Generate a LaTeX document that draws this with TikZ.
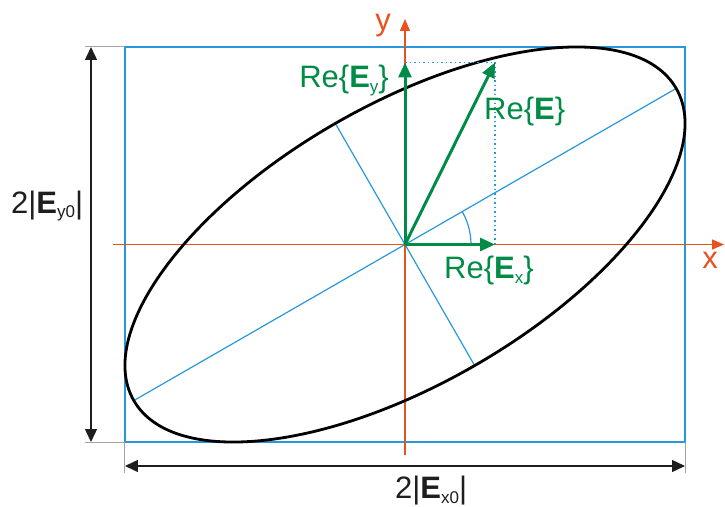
\documentclass[tikz,border=0pt]{standalone}
\usepackage{fontspec}
\setmainfont{Liberation Sans}
\usetikzlibrary{arrows.meta}
\definecolor{eg}{RGB}{0,140,70}
\definecolor{eo}{RGB}{232,82,30}
\definecolor{eb}{RGB}{40,152,218}
\definecolor{dk}{RGB}{30,30,30}
\definecolor{gr}{RGB}{165,165,165}
\newcommand\lsub[1]{\raisebox{-5pt}{\fontsize{17}{17}\selectfont #1}}
\begin{document}
\begin{tikzpicture}[x=1pt,y=1pt,
  lbl/.style={font=\fontsize{31}{36}\selectfont, inner sep=0pt},
  bluethin/.style={eb, line width=1.4pt},
  axisline/.style={eo, line width=1.4pt},
  greenvec/.style={eg, line width=3pt, -{Triangle[length=15pt,width=13pt]}},
  dimline/.style={dk, line width=1.4pt, {Triangle[length=13pt,width=12pt]}-{Triangle[length=13pt,width=12pt]}},
  extline/.style={gr, line width=1pt},
  dotline/.style={eb, line width=1.4pt, dash pattern=on 1.5pt off 3pt}]
\useasboundingbox (-405,-261.5) rectangle (320,244.5);
% reference points
\coordinate (O) at (0,0);
\coordinate (R1) at (-280,-197.5);
\coordinate (R2) at (280,197.5);
\coordinate (R3) at (-280,197.5);
\coordinate (R4) at (280,-197.5);
\coordinate (MA1) at (29.92:312.9);
\coordinate (MA2) at (209.92:312.9);
\coordinate (MI1) at (119.92:139.7);
\coordinate (MI2) at (299.92:139.7);
\coordinate (XL) at (-292,0);
\coordinate (XR) at (319,0);
\coordinate (YB) at (0,-210.5);
\coordinate (YT) at (0,225.5);
\coordinate (EX) at (90,0);
\coordinate (EY) at (0,182);
\coordinate (E) at (90,182);
\coordinate (DV1) at (-314,197.5);
\coordinate (DV2) at (-314,-197.5);
\coordinate (DH1) at (-280,-221.5);
\coordinate (DH2) at (280,-221.5);
\coordinate (EL1) at (-320,197.5);
\coordinate (EL2) at (-320,-197.5);
\coordinate (EB1) at (-280,-228.5);
\coordinate (EB2) at (280,-228.5);
% bounding rectangle
\draw[bluethin] (R1) rectangle (R2);
% ellipse axes
\draw[bluethin, line width=1.2pt] (MA2) -- (MA1);
\draw[bluethin, line width=1.2pt] (MI1) -- (MI2);
% coordinate axes
\draw[axisline, -{Triangle[length=12pt,width=10pt]}] (XL) -- (XR);
\draw[axisline, -{Triangle[length=12pt,width=10pt]}] (YB) -- (YT);
% ellipse
\draw[black, line width=2.8pt, rotate=29.92] (O) ellipse [x radius=312.9, y radius=139.7];
% angle arc
\draw[eb, line width=1.2pt] (66,0) arc[start angle=0, end angle=29.92, radius=66];
% dotted projections
\draw[dotline] (EY) -- (E);
\draw[dotline] (E) -- (EX);
% green vectors
\draw[greenvec] (O) -- (EX);
\draw[greenvec] (O) -- (EY);
\draw[greenvec] (O) -- (E);
% dimension lines
\draw[extline] (EL1) -- (R3);
\draw[extline] (EL2) -- (R1);
\draw[extline] (R1) -- (EB1);
\draw[extline] (R4) -- (EB2);
\draw[dimline] (DV1) -- (DV2);
\draw[dimline] (DH1) -- (DH2);
% labels
\node[lbl, eo, anchor=center] (ylab) at (-22,219) {y};
\node[lbl, eo, anchor=center] (xlab) at (305,-15.5) {x};
\node[lbl, eg, anchor=base east] (lEy) at (-16,157) {Re\{\textbf{E}\lsub{y}\}};
\node[lbl, eg, anchor=base west] (lE) at (79,124.5) {Re\{\textbf{E}\}};
\node[lbl, eg, anchor=base west] (lEx) at (39,-33.5) {Re\{\textbf{E}\lsub{x}\}};
\node[lbl, dk, anchor=base west] (lEy0) at (-394,31.5) {2|\textbf{E}\lsub{y0}|};
\node[lbl, dk, anchor=base west] (lEx0) at (-10,-253.5) {2|\textbf{E}\lsub{x0}|};
\end{tikzpicture}
\end{document}
